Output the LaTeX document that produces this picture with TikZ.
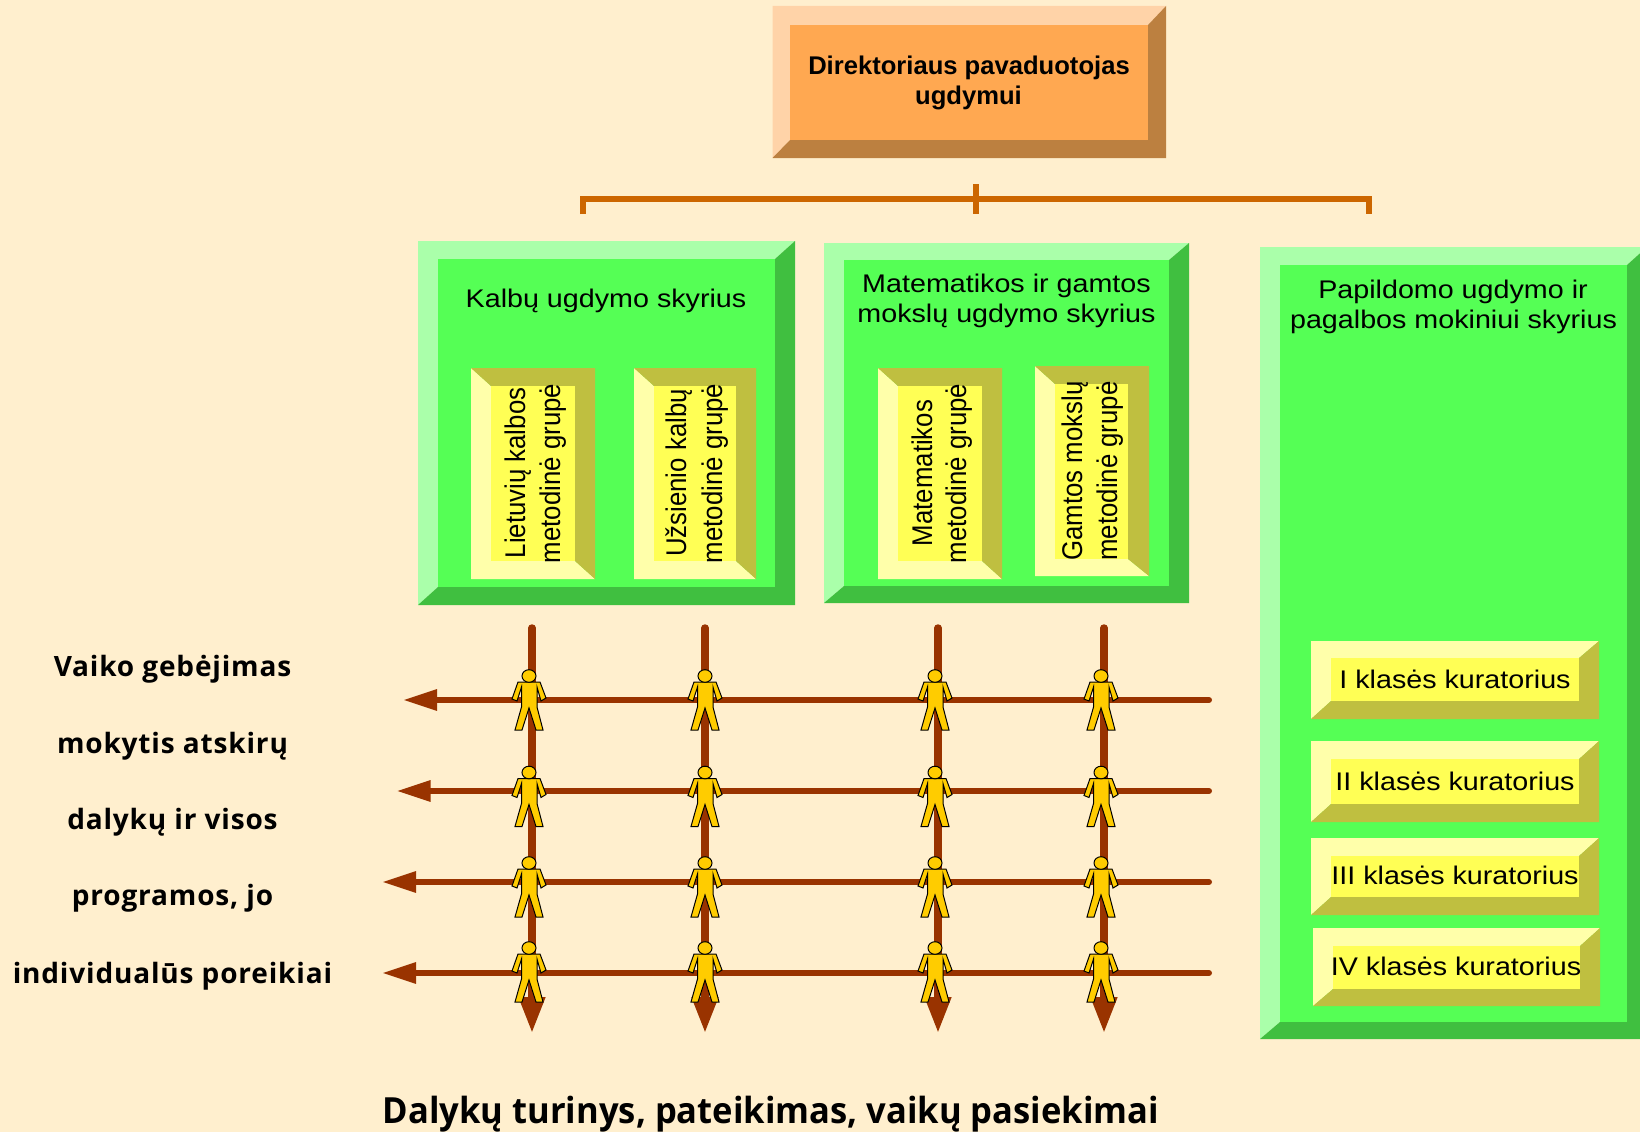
\documentclass[tikz,border=0pt]{standalone}
\usepackage{fontspec}
\usetikzlibrary{arrows.meta}
\setmainfont{Liberation Sans}
\newfontfamily\wideA[FakeStretch=1.125]{Liberation Sans}
\newfontfamily\narrowR[FakeStretch=0.905]{Liberation Sans}
\newfontfamily\labelfont[LetterSpace=3]{Open Sans}
\newfontfamily\bottomfont[FakeStretch=0.96]{Open Sans}
\definecolor{bgc}{HTML}{FFEFCE}
\definecolor{om}{HTML}{FFA851}
\definecolor{ol}{HTML}{FFD3A8}
\definecolor{od}{HTML}{BC8040}
\definecolor{gm}{HTML}{55FF55}
\definecolor{gl}{HTML}{AAFFAA}
\definecolor{gd}{HTML}{40BF40}
\definecolor{ym}{HTML}{FFFF55}
\definecolor{yl}{HTML}{FFFFAA}
\definecolor{yd}{HTML}{BFBF40}
\definecolor{barc}{HTML}{CC6600}
\definecolor{brownc}{HTML}{993300}
\definecolor{personc}{HTML}{FFCC00}
\newcommand{\bevelb}[8]{% name, outer corners, inner corners, main, top+left, bottom+right
  \coordinate (#1o0) at (#2);\coordinate (#1o1) at (#3);
  \coordinate (#1i0) at (#4);\coordinate (#1i1) at (#5);
  \fill[#7] (#1o0) -- (#1o1 |- #1o0) -- (#1i1 |- #1i0) -- (#1i0) -- (#1i0 |- #1i1) -- (#1o0 |- #1o1) -- cycle;
  \fill[#8] (#1o1) -- (#1o0 |- #1o1) -- (#1i0 |- #1i1) -- (#1i1) -- (#1i1 |- #1i0) -- (#1o1 |- #1o0) -- cycle;
  \fill[#6] (#1i0) rectangle (#1i1);
}
\newcommand{\bevela}[8]{% light left+bottom, dark top+right
  \coordinate (#1o0) at (#2);\coordinate (#1o1) at (#3);
  \coordinate (#1i0) at (#4);\coordinate (#1i1) at (#5);
  \fill[#7] (#1o0) -- (#1o0 |- #1o1) -- (#1o1) -- (#1i1) -- (#1i0 |- #1i1) -- (#1i0) -- cycle;
  \fill[#8] (#1o0) -- (#1o1 |- #1o0) -- (#1o1) -- (#1i1) -- (#1i1 |- #1i0) -- (#1i0) -- cycle;
  \fill[#6] (#1i0) rectangle (#1i1);
}
\tikzset{
  x=1pt,y=-1pt,
  bartick/.style={draw=barc,line width=6pt},
  vline/.style={draw=brownc,line width=7.5pt,line cap=round,-{Triangle[length=36pt,width=25pt]}},
  hline/.style={draw=brownc,line width=6pt,line cap=round,-{Triangle[length=34pt,width=20pt]}},
  txt/.style={anchor=base,inner sep=0pt,text=black},
  director/.style={txt,font=\fontsize{25.6}{25.6}\selectfont\bfseries},
  head/.style={txt,font=\wideA\fontsize{25.5}{25.5}\selectfont},
  cur/.style={txt,font=\wideA\fontsize{25.5}{25.5}\selectfont},
  rot/.style={txt,rotate=90,font=\narrowR\fontsize{28.5}{28.5}\selectfont},
  side/.style={txt,font=\labelfont\bfseries\fontsize{28}{28}\selectfont},
  person/.pic={
    \path[fill=personc,draw=black,line width=1pt,line join=miter]
      (-11,6) -- (-17,23) -- (-12,25) -- (-7.5,11) -- (-7.5,31) -- (-14,54) -- (-7,54) -- (0,32)
      -- (7,54) -- (14,54) -- (8,31) -- (8,11) -- (12,25) -- (17,22) -- (11,6) -- cycle;
    \path[fill=personc,draw=black,line width=1pt] (0,0) ellipse [x radius=7,y radius=6.3];
  }
}
\begin{document}
\begin{tikzpicture}
\path[use as bounding box,clip] (0,0) rectangle (1640,1132);
\fill[bgc] (0,0) rectangle (1640,1132);
% director
\bevelb{dir}{772.5,6}{1166,158}{790,25}{1148,140}{om}{ol}{od}
\node[director] (d1) at (969,74.5) {Direktoriaus pavaduotojas};
\node[director] (d2) at (968.5,104.5) {ugdymui};
% bracket
\coordinate (bl) at (583,199);\coordinate (br) at (1369,199);
\coordinate (blb) at (583,214);\coordinate (brb) at (1369,214);
\coordinate (bct) at (976,184);\coordinate (bcb) at (976,214);
\draw[bartick,line cap=butt] (blb) -- (bl) -- (br) -- (brb);
\draw[bartick] (bct) -- (bcb);
% green boxes
\bevelb{g1}{418,241}{795,605}{438,259}{775,587}{gm}{gl}{gd}
\bevelb{g2}{824,243}{1189,603}{844,260}{1169,586}{gm}{gl}{gd}
\bevelb{g3}{1260,247}{1647,1039}{1280,265}{1627,1022}{gm}{gl}{gd}
\node[head] (tk) at (606,307) {Kalbų ugdymo skyrius};
\node[head] (tm1) at (1006.5,292) {Matematikos ir gamtos};
\node[head] (tm2) at (1006.5,322) {mokslų ugdymo skyrius};
\node[head] (tp1) at (1453,298) {Papildomo ugdymo ir};
\node[head] (tp2) at (1453.5,328) {pagalbos mokiniui skyrius};
% yellow vertical boxes
\bevela{y1}{471,368}{595,579}{491,386}{575,561}{ym}{yl}{yd}
\bevela{y2}{634,368}{756,579}{654,386}{736,561}{ym}{yl}{yd}
\bevela{y3}{878,368}{1002,579}{898,386}{982,561}{ym}{yl}{yd}
\bevela{y4}{1035,366}{1149,576}{1055,384}{1128,559}{ym}{yl}{yd}
\node[rot] (r1a) at (525,473) {Lietuvių kalbos};
\node[rot] (r1b) at (560,473.5) {metodinė grupė};
\node[rot] (r2a) at (686,473) {Užsienio kalbų};
\node[rot] (r2b) at (722,473.5) {metodinė grupė};
\node[rot] (r3a) at (932,473) {Matematikos};
\node[rot] (r3b) at (966,473.5) {metodinė grupė};
\node[rot] (r4a) at (1082,471) {Gamtos mokslų};
\node[rot] (r4b) at (1117,471) {metodinė grupė};
% curators
\bevelb{c1}{1311,641}{1599,719}{1331,658}{1579,701}{ym}{yl}{yd}
\bevelb{c2}{1311,741}{1599,822}{1331,759}{1579,804}{ym}{yl}{yd}
\bevelb{c3}{1311,838}{1599,915}{1331,856}{1579,897}{ym}{yl}{yd}
\bevelb{c4}{1313,928}{1600,1006}{1333,946}{1580,989}{ym}{yl}{yd}
\node[cur] (ct1) at (1455,688) {I klasės kuratorius};
\node[cur] (ct2) at (1455,790) {II klasės kuratorius};
\node[cur] (ct3) at (1455,884) {III klasės kuratorius};
\node[cur] (ct4) at (1456,975) {IV klasės kuratorius};
% grid
\foreach \n/\x in {1/532,2/705,3/938,4/1104}{
  \coordinate (vt\n) at (\x,628);
  \coordinate (vb\n) at (\x,1033);
  \draw[vline] (vt\n) -- (vb\n);
}
\foreach \n/\y/\t in {1/700/403,2/791/396.5,3/882/382,4/973/382}{
  \coordinate (hr\n) at (1209,\y);
  \coordinate (hl\n) at (\t,\y);
  \draw[hline] (hr\n) -- (hl\n);
}
% persons
\foreach \c/\x in {1/529,2/705,3/935,4/1101}{
  \foreach \r/\y in {1/676,2/772.5,3/863,4/948}{
    \pic (p\c\r) at (\x,\y) {person};
  }
}
% side labels
\node[side] (s1) at (172.5,676) {Vaiko gebėjimas};
\node[side] (s2) at (172.5,753) {mokytis atskirų};
\node[side] (s3) at (172.5,829) {dalykų ir visos};
\node[side] (s4) at (172.5,905) {programos, jo};
\node[side] (s5) at (172.5,983) {individualūs poreikiai};
\node[txt,font=\bottomfont\bfseries\fontsize{36}{36}\selectfont] (bt) at (771,1123) {Dalykų turinys, pateikimas, vaikų pasiekimai};
\end{tikzpicture}
\end{document}
